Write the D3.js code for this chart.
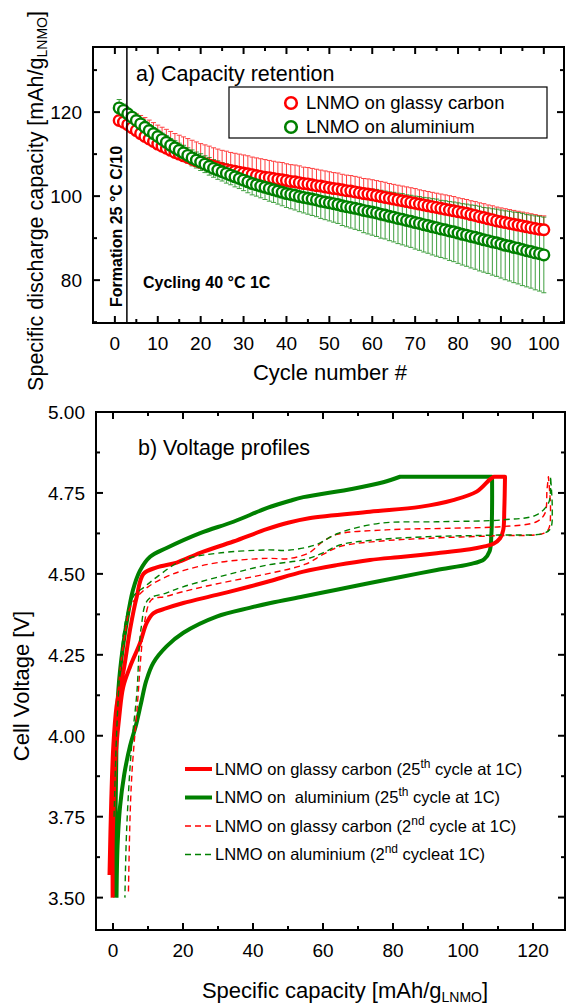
<!DOCTYPE html>
<html>
<head>
<meta charset="utf-8">
<script src="https://d3js.org/d3.v7.min.js"></script>
<style>
  body { margin: 0; background: #fff; }
  svg { display: block; }
  text { font-family: "Liberation Sans", Arial, sans-serif; fill: #000; }
</style>
</head>
<body>
<svg id="chart" width="566" height="1005"></svg>
<script>
// ---------- data: a) capacity retention ----------
var cycles = d3.range(1, 101);
var capGlassy = [
  118.0, 117.6, 117.0, 116.3, 115.6, 114.9, 114.2, 113.6, 113.0, 112.4,
  111.9, 111.4, 110.9, 110.4, 110.0, 109.6, 109.2, 108.8, 108.4, 108.0,
  107.7, 107.4, 107.1, 106.8, 106.5, 106.3, 106.1, 105.9, 105.7, 105.5,
  105.3, 105.1, 104.9, 104.7, 104.5, 104.4, 104.2, 104.0, 103.9, 103.7,
  103.5, 103.4, 103.2, 103.0, 102.9, 102.7, 102.5, 102.4, 102.2, 102.0,
  101.8, 101.7, 101.5, 101.3, 101.2, 101.0, 100.8, 100.6, 100.5, 100.3,
  100.1, 99.9, 99.7, 99.5, 99.3, 99.1, 98.9, 98.7, 98.5, 98.3,
  98.1, 97.9, 97.7, 97.5, 97.3, 97.1, 96.9, 96.7, 96.5, 96.3,
  96.1, 95.9, 95.6, 95.4, 95.1, 94.9, 94.6, 94.4, 94.1, 93.9,
  93.7, 93.5, 93.3, 93.1, 92.9, 92.7, 92.5, 92.3, 92.1, 92.0
];
var capAlu = [
  121.0, 120.4, 119.6, 118.8, 118.0, 117.2, 116.4, 115.6, 114.9, 114.2,
  113.5, 112.8, 112.1, 111.5, 110.9, 110.3, 109.7, 109.1, 108.6, 108.1,
  107.6, 107.1, 106.6, 106.2, 105.8, 105.4, 105.0, 104.6, 104.2, 103.8,
  103.4, 103.0, 102.7, 102.4, 102.1, 101.8, 101.5, 101.2, 100.9, 100.6,
  100.4, 100.2, 99.9, 99.7, 99.5, 99.3, 99.1, 98.8, 98.6, 98.4,
  98.2, 98.0, 97.7, 97.5, 97.3, 97.1, 96.9, 96.6, 96.4, 96.2,
  96.0, 95.7, 95.5, 95.2, 95.0, 94.7, 94.5, 94.2, 94.0, 93.7,
  93.5, 93.2, 93.0, 92.7, 92.5, 92.2, 92.0, 91.7, 91.5, 91.2,
  90.9, 90.7, 90.4, 90.2, 89.9, 89.6, 89.4, 89.1, 88.9, 88.6,
  88.3, 88.1, 87.8, 87.6, 87.3, 87.0, 86.8, 86.5, 86.3, 86.0
];
var errGlassy = [
  1.0, 1.5, 2.5, 3.5, 4.0, 4.3, 4.5, 4.5, 4.5, 4.5,
  4.5, 4.5, 4.5, 4.5, 4.5, 4.5, 4.5, 4.5, 4.5, 4.5,
  4.5, 4.5, 4.4, 4.4, 4.4, 4.4, 4.3, 4.3, 4.3, 4.3,
  4.3, 4.2, 4.2, 4.2, 4.2, 4.1, 4.1, 4.1, 4.1, 4.0,
  4.0, 4.0, 4.0, 3.9, 3.9, 3.9, 3.9, 3.8, 3.8, 3.8,
  3.8, 3.8, 3.7, 3.7, 3.7, 3.7, 3.7, 3.6, 3.6, 3.6,
  3.6, 3.6, 3.6, 3.5, 3.5, 3.5, 3.5, 3.5, 3.5, 3.5,
  3.4, 3.4, 3.4, 3.4, 3.4, 3.4, 3.4, 3.4, 3.4, 3.3,
  3.3, 3.3, 3.3, 3.3, 3.3, 3.3, 3.3, 3.3, 3.3, 3.3,
  3.3, 3.3, 3.3, 3.3, 3.3, 3.3, 3.3, 3.3, 3.3, 3.3
];
var errAlu = [
  2.0, 1.5, 1.2, 1.2, 1.2, 1.3, 1.3, 1.4, 1.4, 1.5,
  1.5, 1.6, 1.6, 1.7, 1.7, 1.8, 1.8, 1.9, 1.9, 2.0,
  2.0, 2.1, 2.1, 2.2, 2.2, 2.3, 2.3, 2.4, 2.4, 2.5,
  2.6, 2.7, 2.7, 2.8, 2.9, 3.0, 3.0, 3.1, 3.2, 3.3,
  3.4, 3.5, 3.6, 3.7, 3.8, 3.9, 4.0, 4.1, 4.2, 4.3,
  4.4, 4.5, 4.7, 4.8, 4.9, 5.0, 5.1, 5.3, 5.4, 5.5,
  5.6, 5.7, 5.7, 5.8, 5.9, 6.0, 6.1, 6.1, 6.2, 6.3,
  6.4, 6.5, 6.6, 6.7, 6.8, 6.8, 6.9, 7.0, 7.1, 7.2,
  7.3, 7.4, 7.5, 7.6, 7.7, 7.7, 7.8, 7.9, 8.0, 8.1,
  8.2, 8.3, 8.4, 8.5, 8.6, 8.6, 8.7, 8.8, 8.9, 9.0
];
var formationEnd = 2.8;

// ---------- data: b) voltage profiles [capacity, voltage] ----------
// each curve: charge branch, constant-voltage top, discharge branch
var glassy25 = [
  [[-1.0, 3.57], [-0.5, 3.80], [0.1, 3.97], [1.0, 4.09], [2.0, 4.15], [3.0, 4.20],
   [4.9, 4.33], [6.8, 4.43], [8.7, 4.50], [12.5, 4.52], [18.2, 4.535],
   [24.9, 4.565], [34.4, 4.60], [43.9, 4.638], [50.0, 4.658], [56.0, 4.672],
   [73.4, 4.692], [87.7, 4.707], [97.2, 4.728], [103.9, 4.754], [107.7, 4.792],
   [108.8, 4.80]],
  [[108.8, 4.80], [112.0, 4.80]],
  [[112.0, 4.80], [111.8, 4.70], [111.5, 4.636], [110.6, 4.61],
   [108.7, 4.593], [105.8, 4.584], [102.0, 4.576], [92.5, 4.564], [82.9, 4.553],
   [73.4, 4.543], [63.9, 4.527], [54.4, 4.507], [44.9, 4.478], [39.1, 4.461],
   [29.6, 4.435], [20.1, 4.41], [15.3, 4.394], [11.5, 4.378], [9.6, 4.348],
   [7.7, 4.286], [4.9, 4.214], [2.9, 4.15], [1.8, 4.06], [0.6, 3.916],
   [0.1, 3.76], [-0.1, 3.66], [-0.1, 3.50]]
];
var alu25 = [
  [[0.5, 3.50], [0.6, 3.64], [0.9, 3.90], [1.2, 4.08], [2.0, 4.20], [3.9, 4.35],
   [5.7, 4.45], [7.7, 4.51], [10.6, 4.553], [15.3, 4.58], [24.9, 4.626],
   [34.4, 4.661], [43.9, 4.703], [50.6, 4.726], [54.4, 4.737], [68.6, 4.763],
   [77.2, 4.783], [82.0, 4.80]],
  [[82.0, 4.80], [108.3, 4.80]],
  [[108.3, 4.80], [108.3, 4.70], [108.1, 4.62], [107.6, 4.57], [106.0, 4.545],
   [102.0, 4.53], [92.5, 4.512], [82.9, 4.492], [73.4, 4.472], [63.9, 4.451],
   [54.3, 4.43], [45.0, 4.41], [39.0, 4.395], [29.6, 4.368], [20.1, 4.318],
   [15.3, 4.276], [11.5, 4.225], [9.5, 4.17], [8.0, 4.10], [6.5, 4.03],
   [4.9, 3.97], [3.2, 3.88], [2.0, 3.78], [1.3, 3.66], [1.0, 3.50]]
];
var glassy2 = [
  [[0.3, 3.80], [1.0, 4.05], [2.0, 4.20], [3.5, 4.32], [5.0, 4.40], [7.0, 4.43],
   [10.0, 4.46], [15.0, 4.49], [20.0, 4.51], [30.0, 4.535], [44.0, 4.548],
   [50.0, 4.547], [56.0, 4.565], [60.0, 4.60], [64.0, 4.622], [78.0, 4.636],
   [97.0, 4.641], [111.0, 4.646], [121.0, 4.661], [123.4, 4.687], [124.0, 4.76],
   [124.4, 4.80]],
  [[124.4, 4.80], [125.0, 4.70], [124.5, 4.64], [123.0, 4.625], [110.0, 4.618],
   [90.0, 4.61], [75.0, 4.60], [65.0, 4.585], [60.0, 4.56], [55.0, 4.53],
   [44.0, 4.50], [30.0, 4.47], [20.0, 4.445], [15.0, 4.43], [11.0, 4.42],
   [9.0, 4.35], [8.0, 4.25], [7.0, 4.10], [5.5, 3.90], [4.9, 3.76], [4.4, 3.51]]
];
var alu2 = [
  [[0.3, 3.75], [1.0, 4.00], [2.0, 4.20], [3.5, 4.35], [5.8, 4.43], [9.0, 4.46],
   [12.5, 4.49], [20.0, 4.543], [30.0, 4.564], [44.0, 4.574], [50.0, 4.573],
   [58.0, 4.59], [64.0, 4.624], [76.0, 4.656], [92.5, 4.661], [111.5, 4.667],
   [121.0, 4.682], [124.4, 4.718], [125.0, 4.76], [125.0, 4.80]],
  [[125.0, 4.80], [125.5, 4.70], [125.0, 4.64], [123.0, 4.625], [110.0, 4.62],
   [90.0, 4.615], [75.0, 4.605], [65.0, 4.59], [60.0, 4.565], [55.0, 4.545],
   [44.0, 4.527], [30.0, 4.49], [20.0, 4.46], [15.0, 4.44], [10.0, 4.42],
   [8.0, 4.33], [6.8, 4.13], [5.3, 3.967], [3.9, 3.71], [3.4, 3.50]]
];

var RED = '#ff0000', GREEN = '#008000';
var svg = d3.select('#chart');

// generic framed axes with inward ticks on all four sides
function frame(g, x, y, xMajor, xMinor, yMajor, yMinor, yFmt) {
  var x0 = x.range()[0], x1 = x.range()[1], y0 = y.range()[0], y1 = y.range()[1];
  g.append('rect').attr('x', x0).attr('y', y1).attr('width', x1 - x0).attr('height', y0 - y1)
    .attr('fill', 'none').attr('stroke', '#000').attr('stroke-width', 2);
  var t = g.append('g').attr('stroke', '#000').attr('stroke-width', 2);
  function xt(vals, len) {
    vals.forEach(function(v) {
      t.append('line').attr('x1', x(v)).attr('x2', x(v)).attr('y1', y0).attr('y2', y0 - len);
      t.append('line').attr('x1', x(v)).attr('x2', x(v)).attr('y1', y1).attr('y2', y1 + len);
    });
  }
  function yt(vals, len) {
    vals.forEach(function(v) {
      t.append('line').attr('y1', y(v)).attr('y2', y(v)).attr('x1', x0).attr('x2', x0 + len);
      t.append('line').attr('y1', y(v)).attr('y2', y(v)).attr('x1', x1).attr('x2', x1 - len);
    });
  }
  xt(xMajor, 7); xt(xMinor, 4); yt(yMajor, 7); yt(yMinor, 4);
  g.append('g').selectAll('text').data(xMajor).join('text')
    .attr('x', function(d) { return x(d); }).attr('y', y0 + 27)
    .attr('text-anchor', 'middle').attr('font-size', 19).text(function(d) { return d; });
  g.append('g').selectAll('text').data(yMajor).join('text')
    .attr('x', x0 - 11).attr('y', function(d) { return y(d) + 7; })
    .attr('text-anchor', 'end').attr('font-size', 19).text(yFmt);
}

// ================= a) capacity retention =================
var xa = d3.scaleLinear().domain([-5.1, 104.7]).range([93, 564]);
var ya = d3.scaleLinear().domain([69.8, 135.5]).range([323, 47]);

var ga = svg.append('g');
var bars = ga.append('g').attr('stroke-width', 1);
function errorBars(vals, errs, color, both) {
  var g = bars.append('g').attr('stroke', color).attr('opacity', 0.75);
  cycles.forEach(function(c, i) {
    var cx = xa(c), top = ya(vals[i] + errs[i]), bot = both ? ya(vals[i] - errs[i]) : ya(vals[i]);
    g.append('line').attr('x1', cx).attr('x2', cx).attr('y1', top).attr('y2', bot);
    g.append('line').attr('x1', cx - 2.5).attr('x2', cx + 2.5).attr('y1', top).attr('y2', top);
    if (both) g.append('line').attr('x1', cx - 2.5).attr('x2', cx + 2.5).attr('y1', bot).attr('y2', bot);
  });
}
errorBars(capGlassy, errGlassy, RED, false);
errorBars(capAlu, errAlu, GREEN, true);

function markers(vals, color) {
  ga.append('g').selectAll('circle').data(cycles).join('circle')
    .attr('cx', function(d) { return xa(d); })
    .attr('cy', function(d, i) { return ya(vals[i]); })
    .attr('r', 5.3).attr('fill', '#fff').attr('stroke', color).attr('stroke-width', 2.4);
}
markers(capGlassy, RED);
markers(capAlu, GREEN);

ga.append('line').attr('x1', xa(formationEnd)).attr('x2', xa(formationEnd))
  .attr('y1', 47).attr('y2', 323).attr('stroke', '#000').attr('stroke-width', 1.5);

frame(ga, xa, ya, d3.range(0, 101, 10), d3.range(5, 100, 10), [80, 100, 120], [70, 90, 110, 130],
  function(d) { return d; });

ga.append('text').attr('x', 136).attr('y', 81).attr('font-size', 21.5).text('a) Capacity retention');
ga.append('text').attr('transform', 'translate(122,307) rotate(-90)')
  .attr('font-size', 16).attr('font-weight', 'bold').text('Formation 25 °C C/10');
ga.append('text').attr('x', 143).attr('y', 288)
  .attr('font-size', 16).attr('font-weight', 'bold').text('Cycling 40 °C 1C');

// legend a
var la = ga.append('g');
la.append('rect').attr('x', 229).attr('y', 87).attr('width', 318).attr('height', 51)
  .attr('fill', '#fff').attr('stroke', '#000').attr('stroke-width', 1.2);
[['LNMO on glassy carbon', RED], ['LNMO on aluminium', GREEN]].forEach(function(e, i) {
  la.append('circle').attr('cx', 291).attr('cy', 103 + i * 24).attr('r', 5.8)
    .attr('fill', '#fff').attr('stroke', e[1]).attr('stroke-width', 2.6);
  la.append('text').attr('x', 306).attr('y', 109 + i * 24).attr('font-size', 18.5).text(e[0]);
});

var ta = ga.append('text').attr('transform', 'translate(43,201) rotate(-90)')
  .attr('text-anchor', 'middle').attr('font-size', 21.5);
ta.append('tspan').text('Specific discharge capacity [mAh/g');
ta.append('tspan').attr('font-size', 14).attr('dy', 4).text('LNMO');
ta.append('tspan').attr('dy', -4).text(']');
ga.append('text').attr('x', 330).attr('y', 380).attr('text-anchor', 'middle')
  .attr('font-size', 22).text('Cycle number #');

// ================= b) voltage profiles =================
var xb = d3.scaleLinear().domain([-4.86, 129.14]).range([96, 565]);
var yb = d3.scaleLinear().domain([3.4, 5.0]).range([930, 412]);
var gb = svg.append('g');
var line = d3.line().x(function(d) { return xb(d[0]); }).y(function(d) { return yb(d[1]); })
  .curve(d3.curveCatmullRom.alpha(0.5));
// join the branches of one curve into a single path
function curvePath(branches) {
  return branches.map(function(b, i) {
    var p = line(b);
    return i ? 'L' + p.slice(1) : p;
  }).join('');
}

var curves = [
  { data: alu25, color: GREEN, w: 4, dash: null },
  { data: glassy25, color: RED, w: 4, dash: null },
  { data: glassy2, color: RED, w: 1.4, dash: '6,4' },
  { data: alu2, color: GREEN, w: 1.4, dash: '6,4' }
];
curves.forEach(function(c) {
  gb.append('path').attr('d', curvePath(c.data)).attr('fill', 'none')
    .attr('stroke', c.color).attr('stroke-width', c.w)
    .attr('stroke-dasharray', c.dash).attr('stroke-linejoin', 'round');
});

frame(gb, xb, yb, d3.range(0, 121, 20), d3.range(10, 130, 20),
  [3.5, 3.75, 4.0, 4.25, 4.5, 4.75, 5.0], [3.625, 3.875, 4.125, 4.375, 4.625, 4.875],
  d3.format('.2f'));

gb.append('text').attr('x', 138).attr('y', 455).attr('font-size', 21.5).text('b) Voltage profiles');

// legend b
var legB = [
  { pre: 'LNMO on glassy carbon (25', sup: 'th', post: ' cycle at 1C)', color: RED, w: 4, dash: null },
  { pre: 'LNMO on  aluminium (25', sup: 'th', post: ' cycle at 1C)', color: GREEN, w: 4, dash: null },
  { pre: 'LNMO on glassy carbon (2', sup: 'nd', post: ' cycle at 1C)', color: RED, w: 1.4, dash: '6,4' },
  { pre: 'LNMO on aluminium (2', sup: 'nd', post: ' cycleat 1C)', color: GREEN, w: 1.4, dash: '6,4' }
];
legB.forEach(function(e, i) {
  var yy = 769 + i * 28.5;
  gb.append('line').attr('x1', 185).attr('x2', 212).attr('y1', yy).attr('y2', yy)
    .attr('stroke', e.color).attr('stroke-width', e.w).attr('stroke-dasharray', e.dash);
  var t = gb.append('text').attr('x', 215).attr('y', yy + 5.5).attr('font-size', 16.5)
    .style('white-space', 'pre');
  t.append('tspan').text(e.pre);
  t.append('tspan').attr('font-size', 12).attr('dy', -7).text(e.sup);
  t.append('tspan').attr('dy', 7).text(e.post);
});

gb.append('text').attr('transform', 'translate(29,686) rotate(-90)')
  .attr('text-anchor', 'middle').attr('font-size', 22).text('Cell Voltage [V]');
var tb = gb.append('text').attr('x', 345).attr('y', 998).attr('text-anchor', 'middle').attr('font-size', 22);
tb.append('tspan').text('Specific capacity [mAh/g');
tb.append('tspan').attr('font-size', 14).attr('dy', 4).text('LNMO');
tb.append('tspan').attr('dy', -4).text(']');
</script>
</body>
</html>
